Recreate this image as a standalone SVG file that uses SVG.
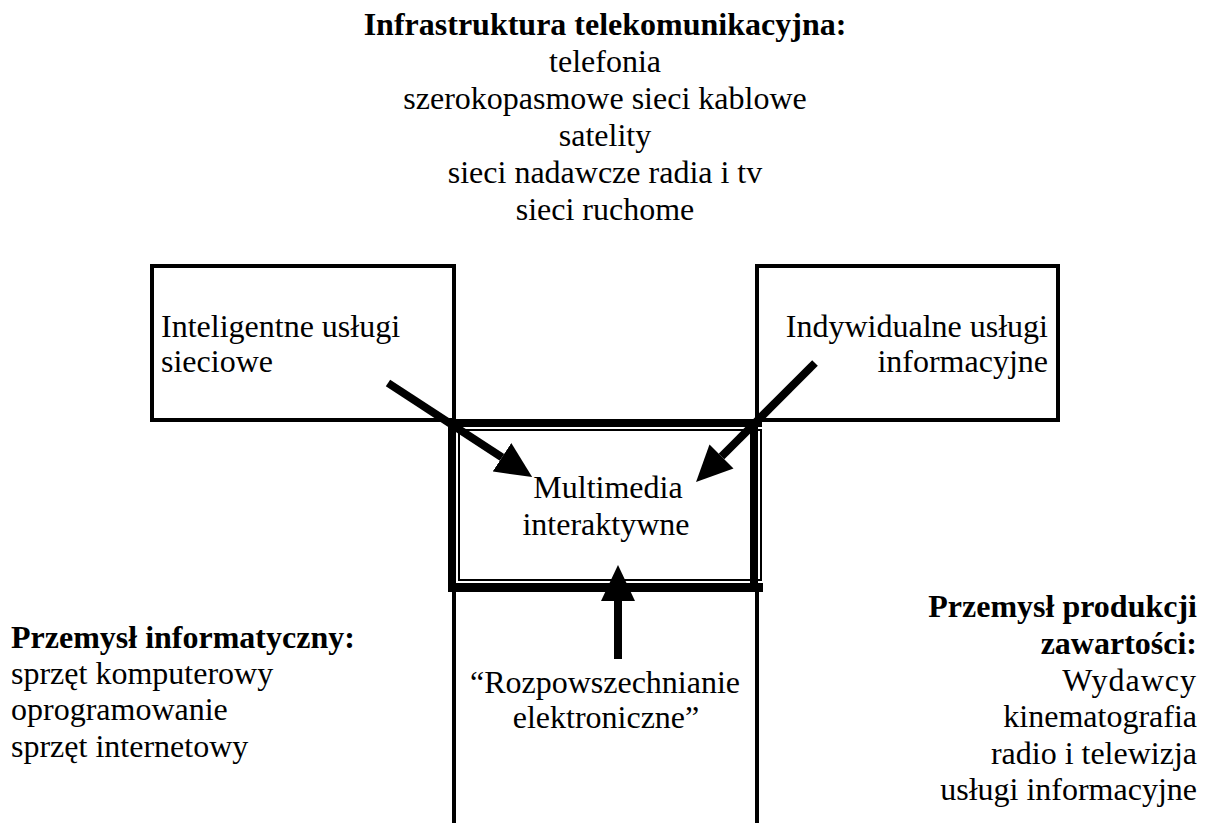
<svg xmlns="http://www.w3.org/2000/svg" width="1205" height="823" viewBox="0 0 1205 823">
<style>
text{font-family:"Liberation Serif","Times New Roman",serif;font-size:32px;fill:#000}
.b{font-weight:bold}
.c{text-anchor:middle}
.r{text-anchor:end}
.box{fill:none;stroke:#000;stroke-width:4}
.blk{fill:#000}
.arr{stroke:#000;stroke-width:8;fill:none;marker-end:url(#ah)}
</style>
<defs>
<marker id="ah" markerUnits="userSpaceOnUse" markerWidth="37" markerHeight="34" refX="0" refY="17" orient="auto">
<path d="M0,0 L36,17 L0,34 z" fill="#000"/>
</marker>
</defs>
<rect width="1205" height="823" fill="#fff"/>
<g id="infrastruktura">
<text class="c b" x="605" y="35">Infrastruktura telekomunikacyjna:</text>
<text class="c" x="605" y="72">telefonia</text>
<text class="c" x="605" y="109">szerokopasmowe sieci kablowe</text>
<text class="c" x="605" y="146">satelity</text>
<text class="c" x="605" y="183">sieci nadawcze radia i tv</text>
<text class="c" x="605" y="220">sieci ruchome</text>
</g>
<g id="uslugi-sieciowe">
<rect class="box" x="152" y="266" width="302" height="154"/>
<text x="161" y="337">Inteligentne usługi</text>
<text x="161" y="372">sieciowe</text>
</g>
<g id="uslugi-informacyjne">
<rect class="box" x="757" y="266" width="301" height="154"/>
<text class="r" x="1048" y="337">Indywidualne usługi</text>
<text class="r" x="1048" y="372">informacyjne</text>
</g>
<g id="rozpowszechnianie">
<line x1="454" y1="590" x2="454" y2="823" stroke="#000" stroke-width="4"/>
<line x1="757" y1="590" x2="757" y2="823" stroke="#000" stroke-width="4"/>
<text class="c" x="605" y="693">“Rozpowszechnianie</text>
<text class="c" x="606" y="728">elektroniczne”</text>
</g>
<g id="multimedia">
<rect class="blk" x="448" y="419" width="314" height="8"/>
<rect class="blk" x="448" y="419" width="8" height="173"/>
<rect class="blk" x="448" y="583" width="315" height="9"/>
<rect class="blk" x="750" y="427" width="8" height="156"/>
<rect x="459" y="430" width="302" height="150" fill="none" stroke="#000" stroke-width="2"/>
<text class="c" x="608" y="498">Multimedia</text>
<text class="c" x="606" y="535">interaktywne</text>
</g>
<g id="przemysl-informatyczny">
<text class="b" x="11" y="648">Przemysł informatyczny:</text>
<text x="11" y="684">sprzęt komputerowy</text>
<text x="11" y="720">oprogramowanie</text>
<text x="11" y="757">sprzęt internetowy</text>
</g>
<g id="przemysl-produkcji">
<text class="r b" x="1197" y="617">Przemysł produkcji</text>
<text class="r b" x="1197" y="654">zawartości:</text>
<text class="r" x="1197" y="691" letter-spacing="1">Wydawcy</text>
<text class="r" x="1197" y="727">kinematografia</text>
<text class="r" x="1197" y="764">radio i telewizja</text>
<text class="r" x="1197" y="800">usługi informacyjne</text>
</g>
<g id="connectors">
<line class="arr" x1="388" y1="383" x2="502" y2="457.3"/>
<line class="arr" x1="815" y1="363" x2="721.5" y2="456.5"/>
<line class="arr" x1="618" y1="659" x2="618" y2="601"/>
</g>
</svg>
